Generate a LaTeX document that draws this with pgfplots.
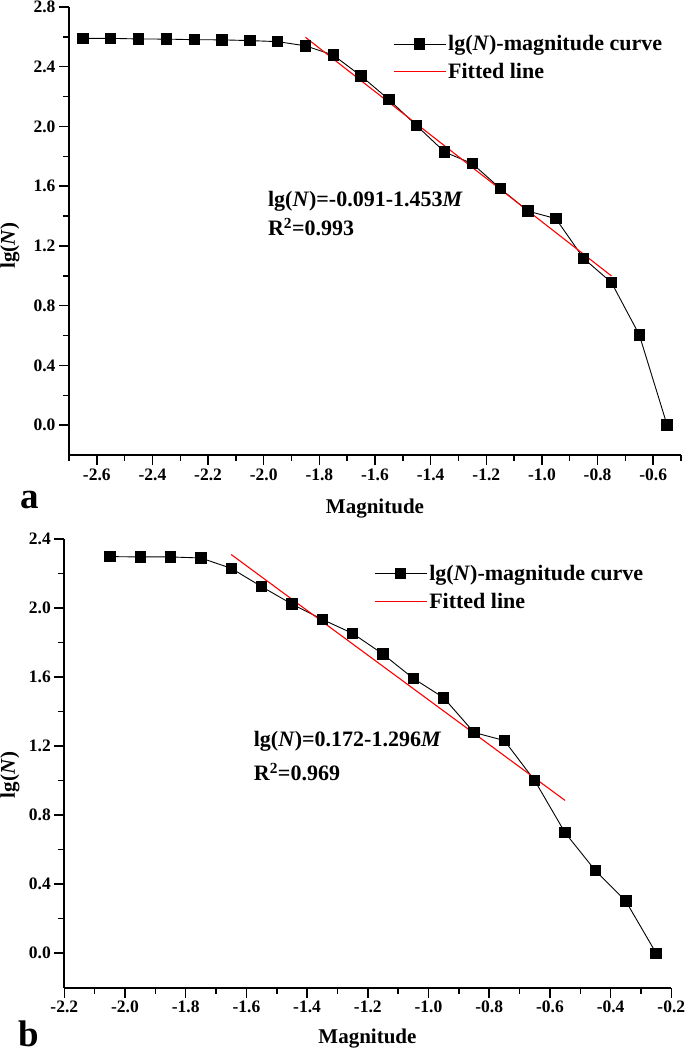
\documentclass[border=0pt]{standalone}
\usepackage{fontspec}
\setmainfont{Liberation Serif}
\usepackage{pgfplots}
\pgfplotsset{compat=1.18}

\pgfplotsset{
  panel/.style={
    scale only axis,
    clip=false,
    axis lines=left,
    axis line style={-, line width=1.8pt},
    tick align=outside,
    major tick length=10pt,
    minor tick length=6pt,
    tick style={black, line width=1.5pt},
    /pgf/number format/assume math mode=true,
    ticklabel style={font=\fontsize{17.5}{17.5}\selectfont\bfseries},
    xticklabel style={/pgf/number format/fixed, /pgf/number format/fixed zerofill, /pgf/number format/precision=1},
    yticklabel style={/pgf/number format/fixed, /pgf/number format/fixed zerofill, /pgf/number format/precision=1},
    label style={font=\fontsize{21}{21}\selectfont\bfseries},
    legend style={draw=none, fill=none, anchor=north west, inner sep=0pt,
      font=\fontsize{22}{22}\selectfont\bfseries, row sep=7pt},
    legend cell align=left,
  },
  curve/.style={black, line width=0.9pt, mark=square*, mark size=5.2pt, mark options={solid, fill=black},
    legend image code/.code={\draw[black, line width=0.9pt] (0pt,0pt) -- (52pt,0pt);
      \fill[black] (20.8pt,-5.2pt) rectangle (31.2pt,5.2pt);}},
  fit/.style={red, line width=1.1pt,
    legend image code/.code={\draw[red, line width=1.2pt] (0pt,0pt) -- (52pt,0pt);}},
}
\tikzset{
  note/.style={anchor=west, inner sep=0pt, font=\fontsize{22}{22}\selectfont\bfseries},
  panelletter/.style={inner sep=0pt, font=\fontsize{37}{37}\selectfont\bfseries},
}

\begin{document}
\begin{tikzpicture}
% panel a
\begin{axis}[panel,
  at={(69pt,595pt)}, anchor=south west,
  width=612pt, height=448pt,
  xmin=-2.7, xmax=-0.5, ymin=-0.2, ymax=2.8,
  xtick={-2.6,-2.4,-2.2,-2.0,-1.8,-1.6,-1.4,-1.2,-1.0,-0.8,-0.6},
  minor xtick={-2.7,-2.5,-2.3,-2.1,-1.9,-1.7,-1.5,-1.3,-1.1,-0.9,-0.7,-0.5},
  ytick={0,0.4,0.8,1.2,1.6,2.0,2.4,2.8},
  minor ytick={0.2,0.6,1.0,1.4,1.8,2.2,2.6},
  xlabel={Magnitude}, ylabel={lg(\textit{N})},
  xlabel style={at={(axis description cs:0.5,-0.119)}, anchor=center},
  ylabel style={at={(axis description cs:-0.0964,0.467)}, anchor=center, rotate=0},
  legend style={at={(axis description cs:0.529,0.941)}},
]
\addplot[curve] coordinates {
  (-2.65,2.590) (-2.55,2.590) (-2.45,2.586) (-2.35,2.585) (-2.25,2.581)
  (-2.15,2.580) (-2.05,2.575) (-1.95,2.568) (-1.85,2.540) (-1.75,2.478)
  (-1.65,2.338) (-1.55,2.180) (-1.45,2.005) (-1.35,1.829) (-1.25,1.751)
  (-1.15,1.585) (-1.05,1.433) (-0.95,1.383) (-0.85,1.116) (-0.75,0.955)
  (-0.65,0.605) (-0.55,0.000)
};
\addlegendentry{lg(\textit{N})-magnitude curve}
\addplot[fit] coordinates {(-1.85,2.597) (-0.75,0.999)};
\addlegendentry{Fitted line}
\node[note] at (axis cs:-1.985,1.497) {lg(\textit{N})=-0.091-1.453\textit{M}};
\node[note] at (axis cs:-1.985,1.327) {R\textsuperscript{2}=0.993};
\node[panelletter] at (axis description cs:-0.0645,-0.1) {a};
\end{axis}

% panel b
\begin{axis}[panel,
  at={(64.3pt,62.3pt)}, anchor=south west,
  width=607pt, height=448.7pt,
  xmin=-2.2, xmax=-0.2, ymin=-0.2, ymax=2.4,
  xtick={-2.2,-2.0,-1.8,-1.6,-1.4,-1.2,-1.0,-0.8,-0.6,-0.4,-0.2},
  minor xtick={-2.1,-1.9,-1.7,-1.5,-1.3,-1.1,-0.9,-0.7,-0.5,-0.3},
  ytick={0,0.4,0.8,1.2,1.6,2.0,2.4},
  minor ytick={0.2,0.6,1.0,1.4,1.8,2.2},
  xlabel={Magnitude}, ylabel={lg(\textit{N})},
  xlabel style={at={(axis description cs:0.4995,-0.114)}, anchor=center},
  ylabel style={at={(axis description cs:-0.0895,0.474)}, anchor=center, rotate=0},
  legend style={at={(axis description cs:0.510,0.947)}},
]
\addplot[curve] coordinates {
  (-2.05,2.298) (-1.95,2.296) (-1.85,2.296) (-1.75,2.290) (-1.65,2.230)
  (-1.55,2.124) (-1.45,2.023) (-1.35,1.934) (-1.25,1.853) (-1.15,1.733)
  (-1.05,1.592) (-0.95,1.480) (-0.85,1.279) (-0.75,1.232) (-0.65,1.000)
  (-0.55,0.698) (-0.45,0.478) (-0.35,0.302) (-0.25,0.000)
};
\addlegendentry{lg(\textit{N})-magnitude curve}
\addplot[fit] coordinates {(-1.65,2.310) (-0.55,0.885)};
\addlegendentry{Fitted line}
\node[note] at (axis cs:-1.576,1.228) {lg(\textit{N})=0.172-1.296\textit{M}};
\node[note] at (axis cs:-1.576,1.050) {R\textsuperscript{2}=0.969};
\node[panelletter] at (axis description cs:-0.059,-0.1032) {b};
\end{axis}
\pgfresetboundingbox
\path (0pt,0pt) rectangle (685pt,1050pt);
\end{tikzpicture}
\end{document}
